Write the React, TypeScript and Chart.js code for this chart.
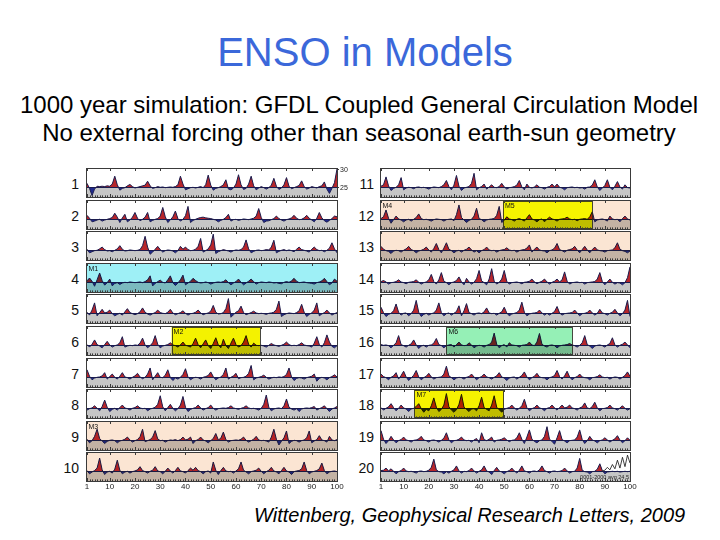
import React, { useEffect, useRef } from "react";
import { Chart, registerables } from "chart.js";

Chart.register(...registerables);

// ---------- data ----------
const YEARS = Array.from({ length: 100 }, (_, i) => i + 1);
const X_TICKS = [1, 10, 20, 30, 40, 50, 60, 70, 80, 90, 100];
const ROW_NAMES = ["1","2","3","4","5","6","7","8","9","10","11","12","13","14","15","16","17","18","19","20"];
// SST anomalies (tenths of a degree C, relative to 25 C)
const ROW1 = [10,-4,-24,-6,2,1,2,1,3,2, 8,30,6,-9,-4,-2,3,7,1,-3, -1,1,3,5,16,3,-4,-2,1,-1, 0,-2,-1,0,-1,1,6,30,8,-8, -5,-2,-1,-3,-1,1,-2,6,33,5, -9,-4,-2,1,6,20,-6,-8,-3,8, 34,6,-7,-4,8,30,3,-8,-3,1, -2,-6,-2,5,24,2,-7,-3,6,26, 2,-5,-2,1,4,17,1,-6,-3,1, -1,-3,1,3,14,-6,-18,-4,12,50];
const ROW2 = [10,2,-8,-6,-3,-1,-6,-3,-1,1, 4,16,5,-10,3,13,-8,-3,5,18, 2,-5,-1,5,18,-8,-4,-1,1,8, 32,6,-10,-3,6,22,1,-6,-1,9, 35,-10,-4,-1,2,4,5,3,2,1, -1,-3,-8,-4,-1,4,13,-6,-2,-1, -4,-2,0,-1,-2,0,2,8,29,4, -10,-6,-5,-2,1,8,1,-3,-6,-2, 0,3,10,2,-2,-1,3,10,2,-3, -8,2,18,3,-5,-9,-4,1,8,6];
const ROW3 = [2,-8,-5,-2,-1,3,8,1,-3,-2, -5,-1,3,12,2,-3,-2,0,-1,-2, -1,1,12,38,8,-12,-6,2,10,1, -6,-2,0,-1,-3,-8,-2,10,2,8, 1,-2,-1,2,10,32,-6,-2,3,14, 44,-10,-5,-2,1,-1,-3,-6,-2,0, -1,1,8,28,3,-8,-4,-1,0,-2, -1,1,0,8,27,-8,-4,-1,1,-2, 0,-2,-5,2,8,1,-1,-3,-6,2, 8,1,-2,-1,-5,-1,5,20,3,-8];
const ROW4 = [3,11,2,-12,6,25,4,-9,-2,8, -11,-4,-2,-7,-3,-1,-2,0,-1,-2, -1,0,-2,1,6,17,-11,-4,1,5, -1,-3,6,17,-2,-10,-3,6,19,-8, -3,2,10,4,-1,-3,-2,0,-2,-6, -3,-1,0,-1,1,6,-2,-8,-3,1, 8,-1,-8,-3,2,8,1,-6,-2,0, -1,-2,0,-1,-3,-2,-4,-5,-1,1, -1,3,10,2,-2,-1,0,-2,-3,-4, -6,-2,0,3,10,1,-8,-3,8,2];
const ROW5 = [2,-6,8,28,-8,1,10,0,2,8, -2,-8,-4,-1,-6,3,12,1,-2,-5, -2,3,14,2,-3,-6,-2,1,8,1, -1,-2,2,10,0,-5,-2,1,6,-1, -6,-2,-1,2,8,0,-5,-2,0,5, 21,2,-3,-2,1,12,40,-12,-5,2, 6,19,1,-5,-2,1,5,0,-2,-1, -2,-4,-1,0,2,10,33,-10,-5,-2, 0,-1,-2,1,6,24,2,-10,-4,0, 8,28,-8,-3,1,8,0,-6,-2,1];
const ROW6 = [1,-6,2,14,1,-3,-8,1,10,0, -6,-2,0,6,23,-6,-3,-1,-2,0, -1,5,19,0,-8,-2,6,26,2,-8, -3,-1,1,6,0,-2,-6,0,8,-1, -3,-6,4,19,1,-8,3,14,-2,-10, 4,20,0,-8,16,-2,-10,5,19,1, -6,-2,8,26,2,-6,5,-1,-2,-1, -3,-6,-1,4,0,-2,-4,-1,2,8, 1,-2,-1,-2,1,6,0,-2,-3,-6, 5,23,1,-6,6,28,8,-4,-8,-2];
const ROW7 = [20,2,-8,-3,-1,0,3,12,-6,1, 8,-1,-6,2,12,0,-2,-6,-1,3, 10,0,-5,-1,8,25,-8,2,12,-1, -2,5,20,-2,-10,-3,-6,-1,7,23, 0,-8,-3,-1,-2,-6,-1,1,4,14, 1,-8,-3,0,7,25,-6,-1,3,10, -5,-2,-1,2,10,32,-8,-3,-1,1, 5,-1,-6,-3,-1,-2,0,-1,1,7, 25,0,-10,-4,-2,-3,-6,-2,0,2, 8,-12,-4,-1,-3,-8,-2,1,6,0];
const ROW8 = [-6,-2,0,6,-1,-8,4,22,2,-10, -4,-1,-6,1,8,0,-2,-6,-1,1, 6,0,-2,-1,-8,-3,-1,2,10,34, 3,-8,1,10,-1,-8,-2,8,32,2, -10,-4,-1,1,8,0,-6,-2,1,8, -1,-6,-2,-1,0,-1,1,6,0,-2, -4,-1,1,6,0,-2,-1,-3,-6,-1, 10,36,2,-8,-3,-1,0,-2,6,25, 2,-3,-6,-2,-10,-3,-1,0,-1,1, 4,-6,-2,1,6,-2,-10,-3,0,4];
const ROW9 = [2,-8,-2,10,30,4,-3,-10,-4,-1, 0,-2,-8,-3,-1,2,8,0,-6,-2, 1,9,30,-5,-2,1,8,26,3,-2, -1,-6,-2,0,-1,1,-2,1,8,0, 2,8,-10,-2,1,8,0,-3,-8,-2, 4,18,0,5,22,1,-6,-2,-1,0, -1,2,8,-1,-6,-2,2,10,0,-2, -1,-3,-6,8,30,2,-14,-4,6,25, -10,-4,-1,-2,-6,-2,0,6,25,-8, -3,1,12,0,-2,-6,10,0,-2,1];
const ROW10 = [1,-8,-3,1,8,36,3,-10,-3,-1, -6,5,30,2,-8,-3,-1,-6,-2,0, 3,12,1,-2,-6,-1,2,12,0,-2, -8,-1,8,0,-6,1,10,0,-2,-6, 1,8,2,10,1,-2,-8,-2,0,-6, 25,2,-10,1,10,0,-2,-1,-6,0, 6,25,2,-3,-8,-2,0,2,8,-1, -8,-2,2,10,0,-3,-8,1,10,0, -3,-10,-2,0,1,6,25,1,-8,-3, -1,1,6,22,1,-8,-3,-1,0,-2];
const ROW11 = [2,6,28,3,-10,-4,-1,6,26,-8, -3,-1,-2,-5,-1,0,-2,-1,-3,-6, -2,0,-1,-2,1,6,18,1,-8,5, 32,2,-10,-3,-1,1,10,38,-8,-2, 1,8,-6,0,6,-1,-2,1,10,0, -6,-2,-1,1,5,18,0,-8,8,-1, -3,0,6,-1,-2,-6,-1,1,8,0, 8,-1,-3,-8,-2,-1,0,-2,-1,-3, -2,-6,-1,0,5,20,0,-10,-3,4, 20,-1,-8,2,15,0,-6,6,-2,-3];
const ROW12 = [1,6,25,2,-12,-2,8,0,-3,-8, -3,-1,-6,-1,4,14,1,-2,-1,-3, -6,-2,0,-1,-2,-6,-2,-1,0,-5, 12,39,4,-3,-10,-4,-1,8,30,1, -2,-8,-3,-1,0,1,10,35,-10,-4, 6,0,-2,-6,-1,1,-2,-6,3,12, 0,-3,-8,-2,0,-8,-1,5,0,-2, -6,-1,0,1,5,0,-2,-1,-5,-1, 0,1,-1,6,20,-8,-3,-1,0,-2, -6,8,0,-2,-1,-8,1,8,0,-3];
const ROW13 = [10,2,-2,-4,-10,-3,-1,-2,-6,-1, 3,10,1,-2,-8,-3,-1,2,8,0, -6,4,18,1,-8,5,20,2,-2,-8, -3,-1,-6,-1,2,8,0,-6,-2,-8, -2,1,8,0,-2,-1,-6,-2,0,1, 6,0,-2,-1,-6,-2,0,1,5,14, -6,2,8,0,-2,-3,-8,-2,0,5, 18,1,-2,-6,-1,1,3,10,0,-8, 1,10,0,-8,1,8,0,-2,-3,-6, -2,-1,0,6,20,2,-2,-4,-8,-3];
const ROW14 = [1,4,0,-6,-2,-1,1,6,0,-2, -5,-1,0,1,6,-1,-6,-2,0,6, 21,1,-6,6,26,2,-2,-8,-2,0, 4,14,0,-8,10,0,-6,-1,9,32, 3,-2,-8,8,37,2,-6,-1,8,32, 2,-6,-2,-1,0,-2,-5,-1,0,2, 8,0,-5,-1,2,8,0,-6,-1,2, 8,0,6,28,2,-6,-2,-1,0,-2, -1,-6,-2,-1,0,1,8,26,1,-8, 0,8,-1,-6,-2,-3,-8,-2,12,42];
const ROW15 = [16,1,-10,-4,-1,6,25,2,-6,-1, 0,-8,-2,8,35,2,-10,-4,-1,-6, -2,0,8,28,1,-8,-2,0,-6,-1, 4,20,-8,6,26,1,-2,-6,-1,0, -2,3,14,0,-2,-1,-6,-1,3,16, 0,-8,-3,-1,1,8,30,2,-8,-3, -1,0,1,8,0,-6,-1,-6,-1,4, 18,0,-6,-2,-1,0,1,8,0,-8, -2,-1,1,8,0,-6,-1,10,0,-2, -6,-1,2,10,0,-8,-2,8,35,-10];
const ROW16 = [1,-1,0,-2,-8,-1,6,26,1,-2, -6,-1,3,14,0,-10,-3,-1,-6,-1, 0,5,18,1,-2,-8,-2,0,1,-6, 1,8,0,-2,-1,6,0,-8,-3,-1, -2,-6,-1,1,8,33,2,-8,-2,1, -6,6,0,-1,-2,-6,-1,0,1,8, 0,-2,8,32,2,-3,-6,-1,0,-2, -8,-3,-1,0,1,4,0,-2,-6,-1, 6,26,1,-3,-10,-3,-1,0,-2,-6, 0,4,20,0,-6,-1,2,8,0,-8];
const ROW17 = [8,1,-2,-8,-1,3,12,-6,4,16, 0,-10,-3,5,18,0,-8,-2,2,10, 0,-6,-2,-1,0,8,30,3,-2,-8, -3,-1,-2,-6,-1,1,8,0,-8,-2, 1,8,0,-2,-6,-1,3,12,0,-3, -10,-3,-1,0,-6,-1,4,14,0,-8, -2,2,10,0,-2,-3,-8,-2,0,4, 18,1,-6,3,16,0,-8,-2,1,8, 0,-2,-3,-8,-2,-1,1,6,0,-2, -1,-6,-2,0,-1,-6,-1,4,14,2];
const ROW18 = [1,-6,-1,3,12,1,-8,-1,8,0, -3,-10,-3,-1,4,12,-2,-12,-4,-8, 6,28,2,-10,-4,8,40,3,-6,-12, -5,10,38,2,-4,-10,-3,-2,-8,6, 30,1,-4,-8,8,34,2,-5,-12,-4, -1,1,8,0,-6,-1,6,24,1,-8, -2,1,8,0,-2,-8,-1,1,8,0, -6,1,8,0,2,8,0,-2,-6,0, 3,14,0,-2,4,16,0,-8,-2,-1, 1,8,0,-2,-6,0,6,-1,-6,-2];
const ROW19 = [26,2,-10,-2,10,0,-8,-2,1,8, 0,-2,-6,-1,0,3,10,0,-2,-6, -1,0,-2,-6,-1,5,20,0,-8,-2, -1,2,8,0,-2,-1,-6,0,4,-8, 20,1,-2,2,8,-6,-1,0,2,6, 0,-5,-1,0,6,20,2,-10,8,28, 2,-4,-8,-2,0,10,37,2,-4,-12, 6,26,1,-3,-8,-2,-1,0,8,28, 1,-10,-2,10,0,-3,-8,-2,0,6, 0,-6,-1,3,12,0,-8,-2,6,-1];
const ROW20 = [1,2,8,0,6,-1,-8,-2,1,8, 0,-2,-1,-3,-6,-1,0,-2,-1,2, 10,33,3,-2,-3,-8,-2,-6,-1,3, 14,0,-6,-1,-2,1,8,0,-6,-1, 3,14,0,-3,-10,1,10,0,-3,-8, -2,1,8,0,-6,2,14,0,-2,-6, -1,0,-2,3,14,1,-2,-6,-1,0, -2,-1,1,8,0,-6,-2,-1,8,35, 2,-2,-3,-8,-2,-1,5,20,1,-8, -3,-2,-1,-2,-1,-3,-2,-1,-2,-1];
const ROWS = [ROW1, ROW2, ROW3, ROW4, ROW5, ROW6, ROW7, ROW8, ROW9, ROW10, ROW11, ROW12, ROW13, ROW14, ROW15, ROW16, ROW17, ROW18, ROW19, ROW20];
// inset curve drawn at the right end of row 20
const INSET_YEARS = [89, 90, 91, 92, 93, 94, 95, 96, 97, 98, 99, 100];
const INSET_VALUES = [0, 2, 10, 3, 18, 6, 30, 8, 38, 12, 44, 22];
const INSET_TEXT = "0001-2000 avg 24.5";
const Y_LABELS = [{ v: 50, t: "30" }, { v: 0, t: "25" }];

// highlighted epochs
const WHOLE_TINTS = [
  { row: 4, color: "#9ef0f6", label: "M1" },
  { row: 9, color: "#fbe5d3", label: "M3" },
  { row: 10, color: "#fbe5d3", label: "" },
  { row: 12, color: "#fbe5d3", label: "M4" },
  { row: 13, color: "#fbe5d3", label: "" },
];
const BOXES = [
  { row: 6, from: 34.5, to: 69.5, color: "#f4f200", label: "M2" },
  { row: 12, from: 49.5, to: 85, color: "#f6f400", label: "M5" },
  { row: 16, from: 27, to: 77, color: "#95f0b6", label: "M6" },
  { row: 18, from: 14.3, to: 49.8, color: "#f6f200", label: "M7" },
];

// ---------- style / layout ----------
const FONT = '"Liberation Sans", Arial, Helvetica, sans-serif';
const RED = "#b7262b";
const BLUE = "#1f2a8e";
const GRAY = "#c6c6c6";
const LINE = "#1b1c4e";
const FRAME = "#3a3a3a";
const COL_LEFT = [87, 381];
const COL_W = [250, 249];
const ROW_TOPS = [169, 201, 232, 264, 295, 327, 359, 390, 422, 453];
const PANEL_H = 28;
const PAD = { left: 2, right: 16, top: 3, bottom: 14 };

function makeDeco(row: number) {
  return {
    id: "deco" + row,
    afterDatasetsDraw(chart: any) {
      const { ctx, chartArea, scales } = chart;
      const xs = scales.x;
      const ys = scales.y;
      const L = chartArea.left, T = chartArea.top, R = chartArea.right, B = chartArea.bottom;
      ctx.save();
      // baseline (25 C)
      const y0 = Math.round(ys.getPixelForValue(0)) + 0.5;
      ctx.strokeStyle = LINE;
      ctx.lineWidth = 1;
      ctx.beginPath();
      ctx.moveTo(L, y0);
      ctx.lineTo(R, y0);
      ctx.stroke();

      const tint = WHOLE_TINTS.find((t) => t.row === row);
      const box = BOXES.find((b) => b.row === row);
      let bx0 = 0, bx1 = 0;
      if (box) {
        bx0 = xs.getPixelForValue(box.from);
        bx1 = xs.getPixelForValue(box.to);
      }
      ctx.globalCompositeOperation = "multiply";
      if (tint) {
        ctx.fillStyle = tint.color;
        if (box) {
          ctx.fillRect(L, T, bx0 - L, B - T);
          ctx.fillRect(bx1, T, R - bx1, B - T);
        } else {
          ctx.fillRect(L, T, R - L, B - T);
        }
      }
      if (box) {
        ctx.fillStyle = box.color;
        ctx.fillRect(bx0, T, bx1 - bx0, B - T);
      }
      ctx.globalCompositeOperation = "source-over";
      ctx.font = "7px " + FONT;
      ctx.fillStyle = "#111";
      ctx.textBaseline = "top";
      ctx.textAlign = "left";
      if (tint && tint.label) ctx.fillText(tint.label, L + 1.5, T + 1.5);
      if (box) {
        ctx.strokeStyle = "rgba(40,40,30,0.85)";
        ctx.lineWidth = 1;
        ctx.strokeRect(Math.round(bx0) + 0.5, T + 0.5, Math.round(bx1 - bx0), B - T - 1);
        ctx.fillText(box.label, bx0 + 2, T + 1.5);
      }

      // frame
      ctx.strokeStyle = FRAME;
      ctx.lineWidth = 1;
      ctx.strokeRect(L - 0.5, T - 0.5, R - L + 1, B - T + 1);
      // ticks
      ctx.beginPath();
      for (let v = 1; v <= 100; v++) {
        const px = Math.round(xs.getPixelForValue(v)) + 0.5;
        const major = v % 10 === 0 || v === 1;
        ctx.moveTo(px, B);
        ctx.lineTo(px, B - (major ? 3 : 1.6));
        if (major) {
          ctx.moveTo(px, T);
          ctx.lineTo(px, T + 2);
        }
      }
      ctx.stroke();

      // y labels on the very first panel
      if (row === 1) {
        ctx.font = "7px " + FONT;
        ctx.fillStyle = "#222";
        ctx.textAlign = "left";
        ctx.textBaseline = "middle";
        ctx.beginPath();
        Y_LABELS.forEach((l) => {
          const py = Math.round(ys.getPixelForValue(l.v)) + 0.5;
          ctx.moveTo(R, py);
          ctx.lineTo(R + 2, py);
          ctx.fillText(l.t, R + 3, py + 1);
        });
        ctx.stroke();
      }
      // inset annotation on the last panel
      if (row === 20) {
        ctx.font = "5.5px " + FONT;
        ctx.fillStyle = "#222";
        ctx.textAlign = "right";
        ctx.textBaseline = "bottom";
        ctx.fillText(INSET_TEXT, R - 1, B - 1);
      }
      // x tick labels under the bottom rows
      if (row === 10 || row === 20) {
        ctx.font = "8px " + FONT;
        ctx.fillStyle = "#222";
        ctx.textAlign = "center";
        ctx.textBaseline = "top";
        X_TICKS.forEach((v) => {
          ctx.fillText(String(v), xs.getPixelForValue(v), B + 2);
        });
      }
      ctx.restore();
    },
  };
}

function Panel({ index }: { index: number }) {
  const ref = useRef<HTMLCanvasElement | null>(null);
  const col = index < 10 ? 0 : 1;
  const r = index % 10;
  const row = index + 1;
  const w = COL_W[col] + PAD.left + PAD.right;
  const h = PANEL_H + PAD.top + PAD.bottom;
  const left = COL_LEFT[col] - PAD.left;
  const top = ROW_TOPS[r] - PAD.top;

  useEffect(() => {
    if (!ref.current) return;
    const values = ROWS[index];
    const pts = values.map((v, i) => ({ x: YEARS[i], y: v }));
    const datasets: any[] = [];
    if (row === 20) {
      datasets.push({
        data: INSET_YEARS.map((x, i) => ({ x, y: INSET_VALUES[i] })),
        borderColor: "#111",
        borderWidth: 0.8,
        pointRadius: 0,
        fill: false,
        order: 0,
      });
    }
    datasets.push({
      data: pts,
      borderColor: LINE,
      borderWidth: 1,
      pointRadius: 0,
      fill: { target: { value: 0 }, above: RED, below: BLUE },
      order: 1,
    });
    datasets.push({
      data: pts,
      borderWidth: 0,
      borderColor: "rgba(0,0,0,0)",
      backgroundColor: GRAY,
      pointRadius: 0,
      fill: "start",
      order: 2,
    });
    const chart = new Chart(ref.current, {
      type: "line",
      data: { datasets },
      options: {
        responsive: false,
        animation: false,
        devicePixelRatio: 1,
        layout: { padding: PAD },
        elements: { line: { tension: 0 } },
        scales: {
          x: { type: "linear", min: 1, max: 100, display: false },
          y: { type: "linear", min: -28, max: 50, display: false },
        },
        plugins: { legend: { display: false }, tooltip: { enabled: false } },
      },
      plugins: [makeDeco(row)],
    } as any);
    return () => chart.destroy();
  }, [index]);

  return (
    <canvas
      ref={ref}
      width={w}
      height={h}
      style={{ position: "absolute", left, top, width: w, height: h }}
    />
  );
}

export default function App() {
  return (
    <div
      style={{
        position: "fixed",
        left: 0,
        top: 0,
        width: 720,
        height: 540,
        background: "#fff",
        overflow: "hidden",
        fontFamily: FONT,
      }}
    >
      <div style={{ position: "absolute", left: 0, width: 730, top: 32, textAlign: "center", fontSize: 40, lineHeight: "40px", color: "#3b68da", whiteSpace: "nowrap" }}>
        ENSO in Models
      </div>
      <div style={{ position: "absolute", left: 0, width: 718, top: 91, textAlign: "center", fontSize: 24, lineHeight: "28px", color: "#000", whiteSpace: "nowrap" }}>
        1000 year simulation: GFDL Coupled General Circulation Model
        <br />
        No external forcing other than seasonal earth-sun geometry
      </div>
      <div style={{ position: "absolute", left: 254, top: 505, fontSize: 20, lineHeight: "20px", fontStyle: "italic", color: "#000", whiteSpace: "nowrap" }}>
        Wittenberg, Geophysical Research Letters, 2009
      </div>
      {ROW_NAMES.map((name, i) => {
        const col = i < 10 ? 0 : 1;
        const r = i % 10;
        const right = col === 0 ? 79 : 374;
        return (
          <div
            key={name}
            style={{ position: "absolute", left: right - 40, width: 40, top: ROW_TOPS[r] + 8, fontSize: 14, lineHeight: "14px", textAlign: "right", color: "#111" }}
          >
            {name}
          </div>
        );
      })}
      {ROWS.map((_, i) => (
        <Panel key={i} index={i} />
      ))}
    </div>
  );
}
